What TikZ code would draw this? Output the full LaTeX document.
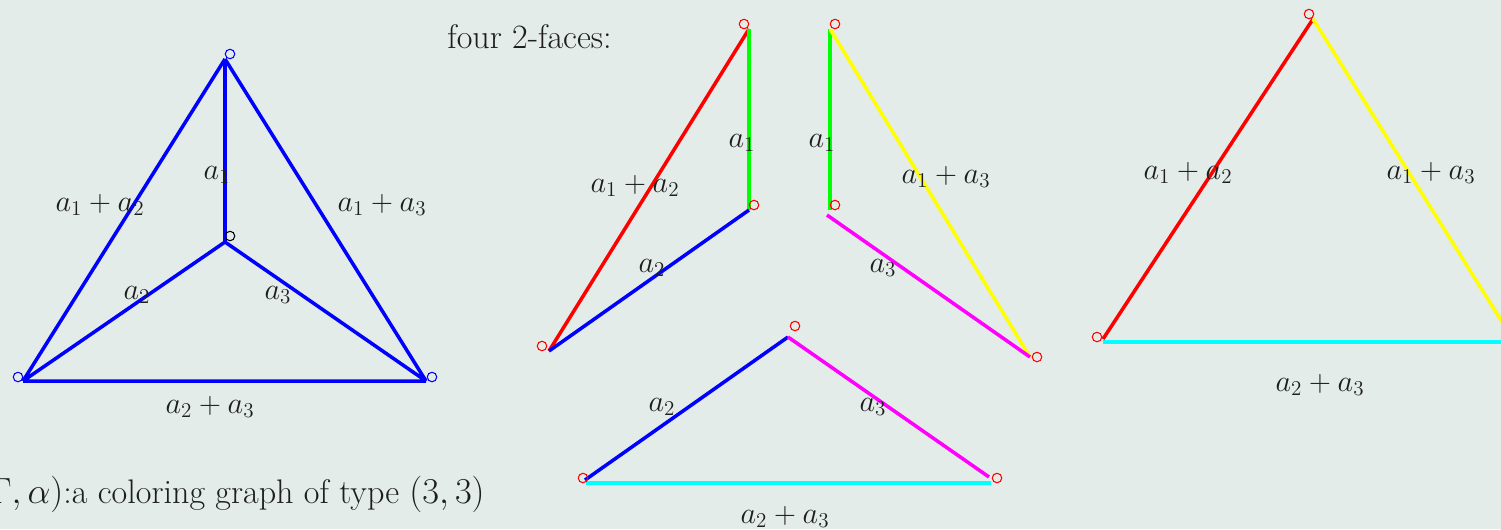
\documentclass[tikz,border=0pt]{standalone}
\definecolor{bg}{RGB}{227,236,232}
\definecolor{txt}{RGB}{30,30,30}
\definecolor{cR}{RGB}{255,0,0}
\definecolor{cG}{RGB}{0,255,0}
\definecolor{cB}{RGB}{0,0,255}
\definecolor{cY}{RGB}{255,255,0}
\definecolor{cM}{RGB}{255,0,255}
\definecolor{cC}{RGB}{0,255,255}
\begin{document}
\begin{tikzpicture}[x=0.02cm,y=-0.02cm,
  edge/.style={line width=2pt},
  vtx/.style={circle,draw,line width=0.6pt,inner sep=0pt,minimum size=0.19cm},
  lbl/.style={font=\LARGE,text=txt,inner sep=0pt},
  bigtext/.style={font=\fontsize{19.4}{23}\selectfont,text=txt,inner sep=0pt}]
\clip (0,0) rectangle (1501,529);
\fill[bg] (0,0) rectangle (1501,529);

% ---------- left: coloring graph ----------
\coordinate (T) at (225,59);
\coordinate (C) at (225,242);
\coordinate (BL) at (23,381);
\coordinate (BR) at (426,381);
\draw[edge,cB] (T) -- (C) (T) -- (BL) (T) -- (BR) (C) -- (BL) (C) -- (BR) (BL) -- (BR);
\node[vtx,cB] (vT) at (230,54) {};
\node[vtx,black] (vC) at (230,236) {};
\node[vtx,cB] (vBL) at (18,377) {};
\node[vtx,cB] (vBR) at (432,377) {};
\node[lbl] (g1) at (217,175) {$a_1$};
\node[lbl] (g12) at (100,205) {$a_1+a_2$};
\node[lbl] (g13) at (382,205) {$a_1+a_3$};
\node[lbl] (g2) at (137,295) {$a_2$};
\node[lbl] (g3) at (278,295) {$a_3$};
\node[lbl] (g23) at (210,407) {$a_2+a_3$};
\node[bigtext,anchor=base east] (cap) at (485,503) {$(\Gamma,\alpha)$:a coloring graph of type $(3,3)$};

\node[bigtext,anchor=base west] (title) at (447,48) {four 2-faces:};

% ---------- face 1 ----------
\coordinate (A1) at (749,29);
\coordinate (A2) at (749,210);
\coordinate (A3) at (549,351);
\draw[edge,cR] (A3) -- (A1);
\draw[edge,cG] (A1) -- (A2);
\draw[edge,cB] (A2) -- (A3);
\node[vtx,cR] (a1) at (744,24) {};
\node[vtx,cR] (a2) at (754,205) {};
\node[vtx,cR] (a3) at (542,346) {};
\node[lbl] (f1a) at (742,143) {$a_1$};
\node[lbl] (f1b) at (635,186) {$a_1+a_2$};
\node[lbl] (f1c) at (652,268) {$a_2$};

% ---------- face 2 ----------
\coordinate (B1) at (830,29);
\coordinate (B2) at (830,210);
\coordinate (B2m) at (827,215);
\coordinate (B3) at (1030,357);
\draw[edge,cG] (B1) -- (B2);
\draw[edge,cY] (B1) -- (B3);
\draw[edge,cM] (B2m) -- (B3);
\node[vtx,cR] (b1) at (835,24) {};
\node[vtx,cR] (b2) at (835,205) {};
\node[vtx,cR] (b3) at (1037,357) {};
\node[lbl] (f2a) at (822,143) {$a_1$};
\node[lbl] (f2b) at (946,177) {$a_1+a_3$};
\node[lbl] (f2c) at (883,268) {$a_3$};

% ---------- face 3 ----------
\coordinate (C1) at (788,337);
\coordinate (C2) at (585,480);
\coordinate (C3) at (989,477);
\coordinate (C2c) at (586,483);
\coordinate (C3c) at (991,483);
\draw[edge,cB] (C2) -- (C1);
\draw[edge,cM] (C1) -- (C3);
\draw[edge,cC] (C2c) -- (C3c);
\node[vtx,cR] (c1) at (795,326) {};
\node[vtx,cR] (c2) at (583,478) {};
\node[vtx,cR] (c3) at (997,478) {};
\node[lbl] (f3a) at (662,407) {$a_2$};
\node[lbl] (f3b) at (873,407) {$a_3$};
\node[lbl] (f3c) at (785,517) {$a_2+a_3$};

% ---------- face 4 ----------
\coordinate (D1) at (1313,19);
\coordinate (D2) at (1103,339);
\coordinate (D3) at (1514,341);
\coordinate (D2c) at (1103,342);
\coordinate (D3c) at (1516,342);
\draw[edge,cR] (D2) -- (D1);
\draw[edge,cY] (D1) -- (D3);
\draw[edge,cC] (D2c) -- (D3c);
\node[vtx,cR] (d1) at (1309,14) {};
\node[vtx,cR] (d2) at (1097,337) {};
\node[vtx,cR] (d3) at (1520,337) {};
\node[lbl] (f4a) at (1188,173) {$a_1+a_2$};
\node[lbl] (f4b) at (1431,173) {$a_1+a_3$};
\node[lbl] (f4c) at (1320,385) {$a_2+a_3$};
\end{tikzpicture}
\end{document}
